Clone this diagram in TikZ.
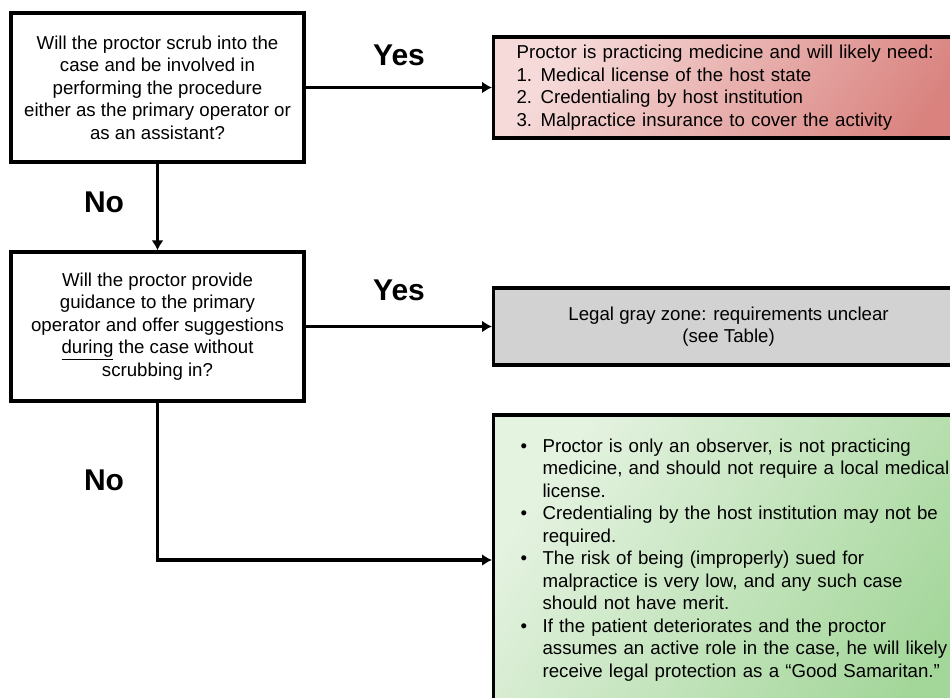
\documentclass[tikz,border=0pt]{standalone}
\usepackage{fontspec}
\setmainfont{Liberation Sans}
\usepackage{tikz}
\usetikzlibrary{positioning,arrows.meta}

\definecolor{redlight}{HTML}{F5DAD9}
\definecolor{reddark}{HTML}{D9827E}
\definecolor{grayfill}{HTML}{D2D2D2}
\definecolor{greenlight}{HTML}{E4F2E0}
\definecolor{greendark}{HTML}{A3D699}

\newcommand{\boxfont}{\fontsize{14}{16.9}\selectfont}
\newcommand{\blt}{\makebox[16.5pt][l]{\textbullet}}
\newcommand{\ind}{\hspace*{16.5pt}}
\newcommand{\num}[1]{\makebox[18pt][l]{#1}}

\tikzset{
  qbox/.style={draw, line width=2.4pt, minimum width=219.75pt, minimum height=111.75pt, align=center, font=\boxfont},
  ansbox/.style={draw, line width=2.4pt, anchor=west, font=\boxfont, inner ysep=2pt},
  lbl/.style={font=\bfseries\fontsize{22.5}{27}\selectfont},
  flow/.style={line width=2.4pt, -{Latex[length=7.5pt,width=9pt]}},
}

\begin{document}
\begin{tikzpicture}[x=0.75pt,y=0.75pt,yscale=-1,xscale=1]
\useasboundingbox (0,0) rectangle (950,697);
\clip (0,0) rectangle (950,697);

% Questions
\node[qbox] (scrub) at (157.5,87.5) {Will the proctor scrub into the\\ case and be involved in\\ performing the procedure\\ either as the primary operator or\\ as an assistant?};
\node[qbox] (guide) at (157.5,326.5) {Will the proctor provide\\ guidance to the primary\\ operator and offer suggestions\\ \underline{during} the case without\\ scrubbing in?};

% Answers
\node[ansbox, left color=redlight, right color=reddark, shading angle=55, minimum height=75.75pt, text width=340pt, inner xsep=17.25pt, align=left] (practice) at (492,87.5) {Proctor is practicing medicine and will likely need:\\ \num{1.}Medical license of the host state\\ \num{2.}Credentialing by host institution\\ \num{3.}Malpractice insurance to cover the activity};
\node[ansbox, fill=grayfill, minimum height=57.75pt, minimum width=352.5pt, align=center] (grayzone) at (492,326.5) {Legal gray zone: requirements unclear\\ (see Table)};
\node[ansbox, left color=greenlight, right color=greendark, shading angle=55, minimum height=217.5pt, text width=340pt, inner xsep=20.25pt, align=left] (observer) at (492,560) {\blt Proctor is only an observer, is not practicing\\
\ind medicine, and should not require a local medical\\
\ind license.\\
\blt Credentialing by the host institution may not be\\
\ind required.\\
\blt The risk of being (improperly) sued for\\
\ind malpractice is very low, and any such case\\
\ind should not have merit.\\
\blt If the patient deteriorates and the proctor\\
\ind assumes an active role in the case, he will likely\\
\ind receive legal protection as a “Good Samaritan.”};

% Labels
\node[lbl] (yes1) at (399,55) {Yes};
\node[lbl] (yes2) at (399,290) {Yes};
\node[lbl] (no1) at (104,202) {No};
\node[lbl] (no2) at (104,480) {No};

% Connectors
\draw[flow] (scrub.east) -- (practice.west);
\draw[flow] (scrub.south) -- (guide.north);
\draw[flow] (guide.east) -- (grayzone.west);
\draw[flow] (guide.south) |- (observer.west);

\end{tikzpicture}
\end{document}
